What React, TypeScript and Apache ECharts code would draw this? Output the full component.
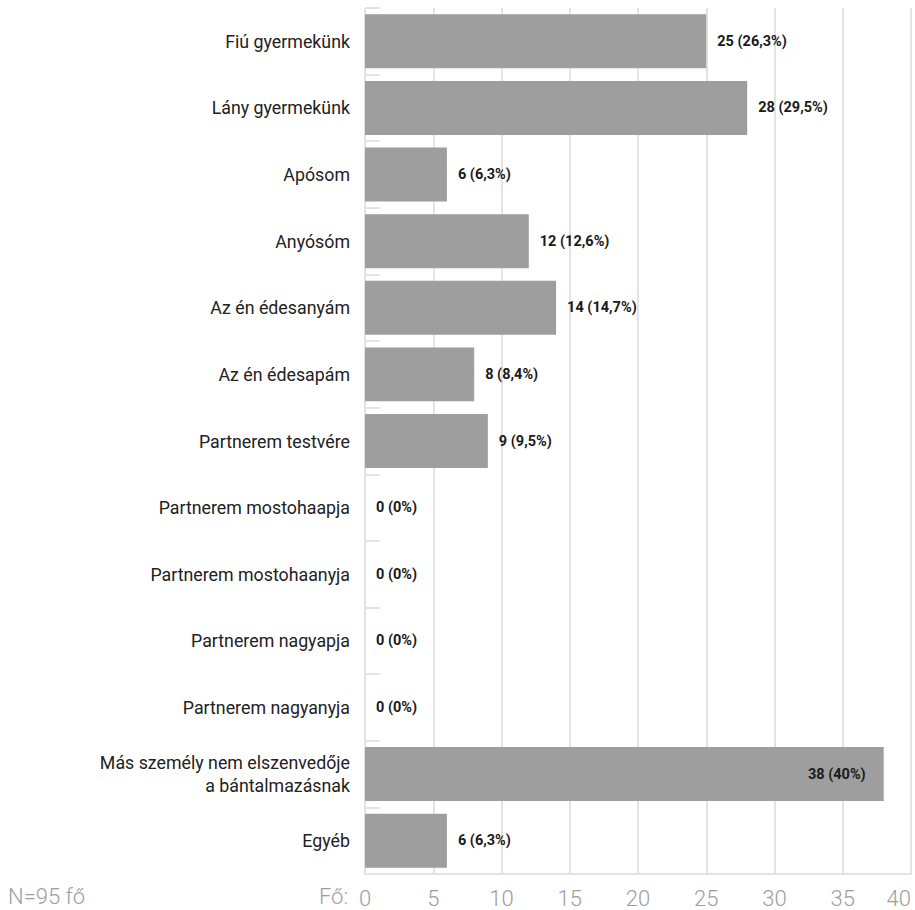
import React, { useEffect, useRef } from "react";
import * as echarts from "echarts";

const categories = [
  "Fiú gyermekünk",
  "Lány gyermekünk",
  "Apósom",
  "Anyósóm",
  "Az én édesanyám",
  "Az én édesapám",
  "Partnerem testvére",
  "Partnerem mostohaapja",
  "Partnerem mostohaanyja",
  "Partnerem nagyapja",
  "Partnerem nagyanyja",
  "Más személy nem elszenvedője\na bántalmazásnak",
  "Egyéb",
];
const counts = [25, 28, 6, 12, 14, 8, 9, 0, 0, 0, 0, 38, 6];
const percents = ["26,3%", "29,5%", "6,3%", "12,6%", "14,7%", "8,4%", "9,5%", "0%", "0%", "0%", "0%", "40%", "6,3%"];
const xTicks = { min: 0, max: 40, interval: 5 };
const footnote = "N=95 fő";
const axisUnit = "Fő:";

const FONT = "Roboto, 'Noto Sans', sans-serif";

export default function App() {
  const ref = useRef<HTMLDivElement>(null);
  useEffect(() => {
    if (!ref.current) return;
    const chart = echarts.init(ref.current, undefined, { renderer: "svg" });
    const maxVal = Math.max(...counts);
    chart.setOption({
      animation: false,
      textStyle: { fontFamily: FONT },
      grid: { left: 365, right: 4, top: 8, bottom: 36, containLabel: false },
      xAxis: {
        type: "value",
        min: xTicks.min,
        max: xTicks.max,
        interval: xTicks.interval,
        axisLine: { show: true, lineStyle: { color: "#e3e3e3", width: 2 } },
        axisTick: { show: false },
        splitLine: { show: true, lineStyle: { color: "#e3e3e3", width: 2 } },
        axisLabel: {
          color: "#9e9e9e",
          fontSize: 22,
          fontWeight: 300,
          fontFamily: FONT,
          margin: 13,
          alignMaxLabel: "right",
        },
      },
      yAxis: {
        type: "category",
        inverse: true,
        data: categories,
        axisLine: { show: false },
        axisTick: { show: true, inside: true, length: 15, lineStyle: { color: "#e3e3e3", width: 2 } },
        axisLabel: {
          color: "#222",
          fontSize: 17.8,
          fontFamily: FONT,
          margin: 15,
          lineHeight: 23,
          align: "right",
        },
      },
      series: [
        {
          type: "bar",
          barWidth: "81%",
          itemStyle: { color: "#9e9e9e" },
          data: counts.map((v, i) =>
            v === maxVal
              ? { value: v, label: { position: "insideRight", distance: 18 } }
              : { value: v }
          ),
          label: {
            show: true,
            position: "right",
            distance: 11,
            color: "#1a1a1a",
            fontSize: 14.5,
            fontWeight: "bold",
            fontFamily: FONT,
            formatter: (p: any) => `${counts[p.dataIndex]} (${percents[p.dataIndex]})`,
          },
        },
      ],
      graphic: [
        {
          type: "text",
          left: 8,
          top: 885,
          style: { text: footnote, fill: "#9e9e9e", font: `300 22px ${FONT}` },
        },
        {
          type: "text",
          right: 567,
          top: 885,
          style: { text: axisUnit, fill: "#9e9e9e", font: `300 22px ${FONT}` },
        },
      ],
    });
    return () => chart.dispose();
  }, []);
  return <div ref={ref} style={{ width: 915, height: 910, position: "absolute", left: 0, top: 0 }} />;
}
